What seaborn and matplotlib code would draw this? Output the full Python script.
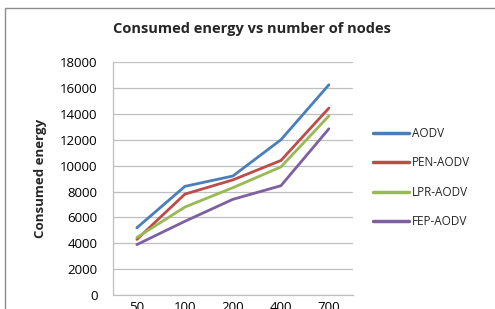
import matplotlib
matplotlib.use("Agg")
import matplotlib.pyplot as plt
import seaborn as sns
import pandas as pd

nodes = ["50", "100", "200", "400", "700"]
aodv = [5200, 8400, 9200, 12000, 16250]
pen_aodv = [4300, 7800, 8900, 10400, 14450]
lpr_aodv = [4450, 6800, 8300, 9900, 13850]
fep_aodv = [3900, 5700, 7400, 8450, 12850]
series_names = ["AODV", "PEN-AODV", "LPR-AODV", "FEP-AODV"]
colors = ["#4a7ebb", "#be4b48", "#98b954", "#7d60a0"]

rows = []
for name, vals in zip(series_names, [aodv, pen_aodv, lpr_aodv, fep_aodv]):
    for i, (n, v) in enumerate(zip(nodes, vals)):
        rows.append({"pos": i, "nodes": n, "energy": v, "series": name})
df = pd.DataFrame(rows)

sns.set_style("white")
plt.rcParams["font.family"] = ["Open Sans", "DejaVu Sans"]

fig = plt.figure(figsize=(4.95, 3.09), dpi=100)
ax = fig.add_axes([0.228, 0.045, 0.485, 0.754])

sns.lineplot(data=df, x="pos", y="energy", hue="series", hue_order=series_names,
             palette=colors, linewidth=2.0, ax=ax, legend=True)

ax.set_xlim(-0.5, 4.5)
ax.set_ylim(0, 18000)
ax.set_yticks(range(0, 18001, 2000))
ax.set_xticks(range(len(nodes)))
ax.set_xticklabels(nodes)
ax.tick_params(axis="both", labelsize=9.5, colors="#000000")
ax.tick_params(axis="y", length=4, width=0.9, color="#bfbfbf", direction="out", pad=7)
ax.tick_params(axis="x", length=0, pad=4)
ax.grid(axis="y", color="#bfbfbf", linewidth=0.9)
ax.set_axisbelow(True)
for s in ["top", "right"]:
    ax.spines[s].set_visible(False)
for s in ["left", "bottom"]:
    ax.spines[s].set_color("#bfbfbf")
    ax.spines[s].set_linewidth(0.9)
ax.set_xlabel("")
ax.set_ylabel("Consumed energy", fontsize=9.5, fontweight="bold", labelpad=9)

fig.text(0.508, 0.905, "Consumed energy vs number of nodes", ha="center", va="center",
         fontsize=10.5, fontweight="bold")

leg = ax.legend(loc="center left", bbox_to_anchor=(1.04, 0.505), frameon=False,
                fontsize=8.5, handlelength=3.0, labelspacing=1.4, handletextpad=0.25)
for line in leg.get_lines():
    line.set_linewidth(2.5)

rect = plt.Rectangle((5 / 495, -0.05), 1.2, 1 - 8 / 309 + 0.05, transform=fig.transFigure,
                     fill=False, edgecolor="#8c8c8c", linewidth=1.0)
fig.patches.append(rect)

fig.savefig("out.png", dpi=100)
